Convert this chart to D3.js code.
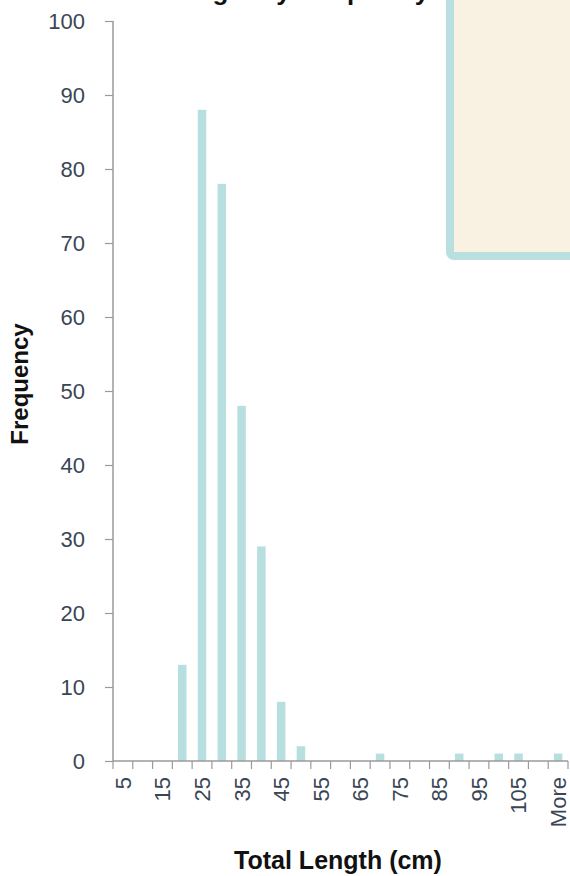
<!DOCTYPE html>
<html>
<head>
<meta charset="utf-8">
<script src="https://cdn.jsdelivr.net/npm/d3@7"></script>
<style>
  html, body { margin: 0; padding: 0; background: #ffffff; }
  svg { display: block; font-family: "Liberation Sans", Arial, sans-serif; }
</style>
</head>
<body>
<svg id="chart" width="570" height="876"></svg>
<script>
// ---- data ----
const categories = ["5","10","15","20","25","30","35","40","45","50","55","60","65","70","75","80","85","90","95","100","105","110","More"];
const frequency  = [0, 0, 0, 13, 88, 78, 48, 29, 8, 2, 0, 0, 0, 1, 0, 0, 0, 1, 0, 1, 1, 0, 1];
const xTickLabels = ["5","15","25","35","45","55","65","75","85","95","105","More"];
const yTicks = [0, 10, 20, 30, 40, 50, 60, 70, 80, 90, 100];
const chartTitle = "Total Length by Frequency";
const xTitle = "Total Length (cm)";
const yTitle = "Frequency";

(function () {
const svg = d3.select("#chart");
const mLeft = 113, mRight = 568, mTop = 21, mBottom = 761;

const xCell = d3.scaleBand().domain(categories).range([mLeft, mRight]).padding(0);
const xBar = d3.scaleBand().domain(categories).range([mLeft, mRight]).paddingInner(0.57).paddingOuter(0.285);
const y = d3.scaleLinear().domain([0, 100]).range([mBottom, mTop]);

const axisColor = "#9a9a9a";
const labelColor = "#3a4656";

// title (clipped at top, as in the reference)
svg.append("text")
  .attr("x", 99).attr("y", 0)
  .attr("font-size", 26).attr("font-weight", "bold").attr("fill", "#111")
  .text(chartTitle);

// bars
svg.append("g").selectAll("rect")
  .data(categories.map((c, i) => ({ c, v: frequency[i] })).filter(d => d.v > 0))
  .join("rect")
  .attr("x", d => xBar(d.c))
  .attr("width", xBar.bandwidth())
  .attr("y", d => y(d.v))
  .attr("height", d => y(0) - y(d.v))
  .attr("fill", "#b7dfe0");

// y axis
const yAxis = svg.append("g").attr("transform", `translate(${mLeft},0)`)
  .call(d3.axisLeft(y).tickValues(yTicks).tickSize(8).tickPadding(20));
yAxis.select(".domain").attr("stroke", axisColor).attr("stroke-width", 1.5).attr("d", `M0,${mTop}V${mBottom}`);
yAxis.selectAll(".tick line").attr("stroke", axisColor).attr("stroke-width", 1.2);
yAxis.selectAll(".tick text").attr("font-size", 22).attr("fill", labelColor)
  .attr("font-family", "Liberation Sans, Arial, sans-serif");

// x axis line
svg.append("line").attr("x1", mLeft).attr("x2", mRight).attr("y1", mBottom).attr("y2", mBottom)
  .attr("stroke", axisColor).attr("stroke-width", 1.5);

// x boundary ticks
const boundaries = categories.map(c => xCell(c)).concat([xCell(categories[categories.length - 1]) + xCell.bandwidth()]);
svg.append("g").selectAll("line").data(boundaries).join("line")
  .attr("x1", d => d).attr("x2", d => d)
  .attr("y1", mBottom).attr("y2", mBottom + 8)
  .attr("stroke", axisColor).attr("stroke-width", 1.2);

// x labels (rotated)
svg.append("g").selectAll("text").data(xTickLabels).join("text")
  .attr("transform", d => `translate(${xCell(d) + xCell.bandwidth() / 2},${mBottom + 16}) rotate(-90)`)
  .attr("text-anchor", "end")
  .attr("dy", "0.36em")
  .attr("font-size", 22).attr("fill", labelColor)
  .text(d => d);

// axis titles
svg.append("text")
  .attr("x", 338).attr("y", 869)
  .attr("text-anchor", "middle").attr("font-size", 25).attr("font-weight", "bold").attr("fill", "#111")
  .text(xTitle);

svg.append("text")
  .attr("transform", `translate(28,384) rotate(-90)`)
  .attr("text-anchor", "middle").attr("font-size", 24).attr("font-weight", "bold").attr("fill", "#111")
  .text(yTitle);

// box at top right
svg.append("rect")
  .attr("x", 450).attr("y", -20).attr("width", 200).attr("height", 276).attr("rx", 4)
  .attr("fill", "#f9f1e2").attr("stroke", "#b9dfe1").attr("stroke-width", 8);
})();
</script>
</body>
</html>
